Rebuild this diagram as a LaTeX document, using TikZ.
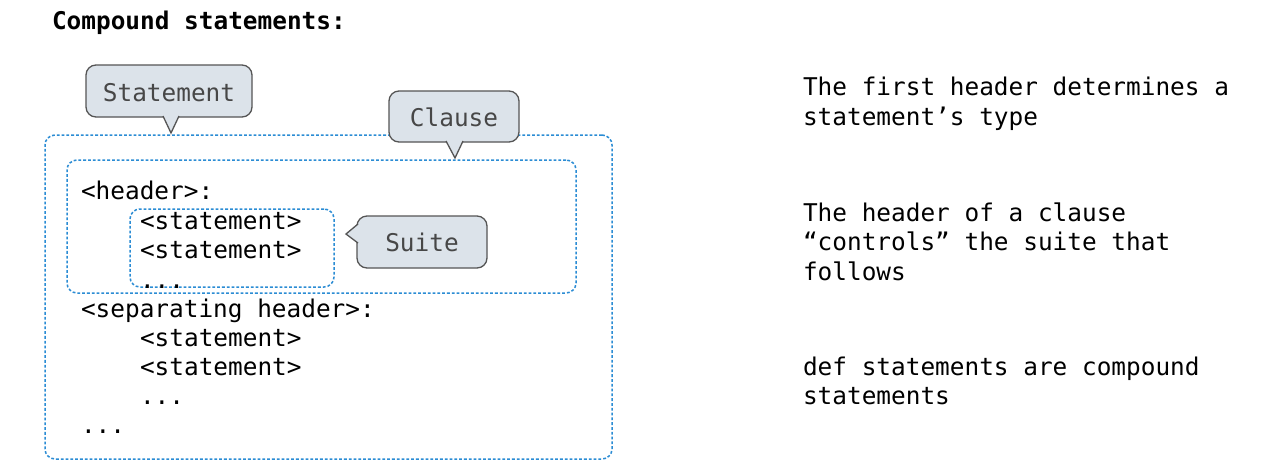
\documentclass[tikz,border=0pt]{standalone}
\usepackage{fontspec}
\setmonofont{DejaVu Sans Mono}
\begin{document}
\begin{tikzpicture}[x=1pt,y=-1pt,
  every node/.style={inner sep=0pt,outer sep=0pt},
  code/.style={anchor=base west,font=\ttfamily\fontsize{24.4}{29}\selectfont,text=black},
  title/.style={code,font=\ttfamily\bfseries\fontsize{24.4}{29}\selectfont},
  dotbox/.style={draw=dotblue,line width=1.5pt,dash pattern=on 2.8pt off 2pt,rounded corners=10pt},
  callbox/.style={draw=calledge,fill=callfill,line width=1.3pt,rounded corners=10pt},
  calltxt/.style={anchor=base,font=\ttfamily\fontsize{24.4}{29}\selectfont,text=calltext},
  pointer/.style={draw=calledge,fill=callfill,line width=1.3pt,line join=miter}
]
\definecolor{dotblue}{HTML}{2B8CD4}
\definecolor{callfill}{HTML}{DCE3EA}
\definecolor{calledge}{HTML}{555555}
\definecolor{calltext}{HTML}{474747}
\useasboundingbox (0,0) rectangle (1286,467);
\fill[white] (0,0) rectangle (1286,467);

% heading
\node[title] (head) at (52,29) {Compound statements:};

% nested regions: statement, clause, suite
\node[dotbox,minimum width=567pt,minimum height=324pt] (stmtbox) at (328.5,297) {};
\node[dotbox,minimum width=509pt,minimum height=133pt] (clausebox) at (321.5,226.5) {};
\node[dotbox,minimum width=204pt,minimum height=78pt] (suitebox) at (232,248) {};

% code skeleton
\node[code] (l1) at (81,199) {<header>:};
\node[code] (l2) at (140,229) {<statement>};
\node[code] (l3) at (140,258.5) {<statement>};
\node[code] (l4) at (140,288) {...};
\node[code] (l5) at (81,317) {<separating header>:};
\node[code] (l6) at (140,346) {<statement>};
\node[code] (l7) at (140,375) {<statement>};
\node[code] (l8) at (140,404) {...};
\node[code] (l9) at (81,433) {...};

% callouts
\node[callbox,minimum width=166pt,minimum height=52pt] (cstmt) at (169,91) {};
\filldraw[pointer] (163,116) -- (171,133) -- (179,116);
\node[calltxt] (tstmt) at (169,101) {Statement};
\node[callbox,minimum width=130pt,minimum height=51pt] (cclause) at (454,116.5) {};
\filldraw[pointer] (446,141) -- (455,158) -- (463,141);
\node[calltxt] (tclause) at (454,126.5) {Clause};
\node[callbox,minimum width=130pt,minimum height=52pt] (csuite) at (422,242) {};
\filldraw[pointer] (358,224) -- (346,234) -- (358,243);
\node[calltxt] (tsuite) at (422,251.5) {Suite};

% notes
\node[code] (n1) at (803,95) {The first header determines a};
\node[code] (n2) at (803,125) {statement’s type};
\node[code] (n3) at (803,221) {The header of a clause};
\node[code] (n4) at (803,250) {“controls” the suite that};
\node[code] (n5) at (803,280) {follows};
\node[code] (n6) at (803,375) {def statements are compound};
\node[code] (n7) at (803,404) {statements};
\end{tikzpicture}
\end{document}
